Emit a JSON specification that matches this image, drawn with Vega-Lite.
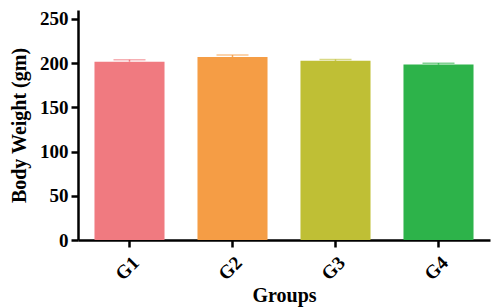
{
  "$schema": "https://vega.github.io/schema/vega-lite/v6.json",
  "width": 412,
  "height": 230,
  "autosize": {"type": "none"},
  "padding": {"left": 78, "top": 10, "right": 6, "bottom": 68},
  "background": "white",
  "data": {"values": [
    {"group": "G1", "weight": 201.6, "upper": 203.8},
    {"group": "G2", "weight": 207.0, "upper": 209.0},
    {"group": "G3", "weight": 202.6, "upper": 204.0},
    {"group": "G4", "weight": 198.3, "upper": 199.8}
  ]},
  "config": {
    "view": {"stroke": null},
    "font": "Liberation Serif",
    "axis": {
      "grid": false,
      "domainColor": "black",
      "domainWidth": 2.5,
      "tickColor": "black",
      "tickWidth": 2.5,
      "tickSize": 7,
      "labelFont": "Liberation Serif",
      "labelFontWeight": "bold",
      "labelFontSize": 19,
      "labelColor": "black",
      "titleFont": "Liberation Serif",
      "titleFontWeight": "bold",
      "titleFontSize": 20,
      "titleColor": "black"
    }
  },
  "encoding": {
    "x": {
      "field": "group",
      "type": "nominal",
      "title": "Groups",
      "scale": {"paddingInner": 0.32, "paddingOuter": 0.16},
      "axis": {"labelAngle": -45, "labelPadding": 6, "titlePadding": 2}
    }
  },
  "layer": [
    {
      "mark": {"type": "bar"},
      "encoding": {
        "y": {
          "field": "weight",
          "type": "quantitative",
          "title": "Body Weight (gm)",
          "scale": {"domain": [0, 250]},
          "axis": {"values": [0, 50, 100, 150, 200, 250], "labelPadding": 3, "titlePadding": 10}
        },
        "color": {
          "field": "group",
          "type": "nominal",
          "scale": {"domain": ["G1", "G2", "G3", "G4"], "range": ["#F07A80", "#F59D45", "#BFBF35", "#2DB34A"]},
          "legend": null
        }
      }
    },
    {
      "mark": {"type": "rule", "strokeWidth": 1.5},
      "encoding": {
        "y": {"field": "weight", "type": "quantitative"},
        "y2": {"field": "upper"},
        "color": {
          "field": "group",
          "type": "nominal",
          "scale": {"domain": ["G1", "G2", "G3", "G4"], "range": ["#F07A80", "#F59D45", "#BFBF35", "#2DB34A"]},
          "legend": null
        }
      }
    },
    {
      "mark": {"type": "tick", "size": 32, "thickness": 1.5, "opacity": 0.6},
      "encoding": {
        "y": {"field": "upper", "type": "quantitative"},
        "color": {
          "field": "group",
          "type": "nominal",
          "scale": {"domain": ["G1", "G2", "G3", "G4"], "range": ["#F07A80", "#F59D45", "#BFBF35", "#2DB34A"]},
          "legend": null
        }
      }
    }
  ]
}
